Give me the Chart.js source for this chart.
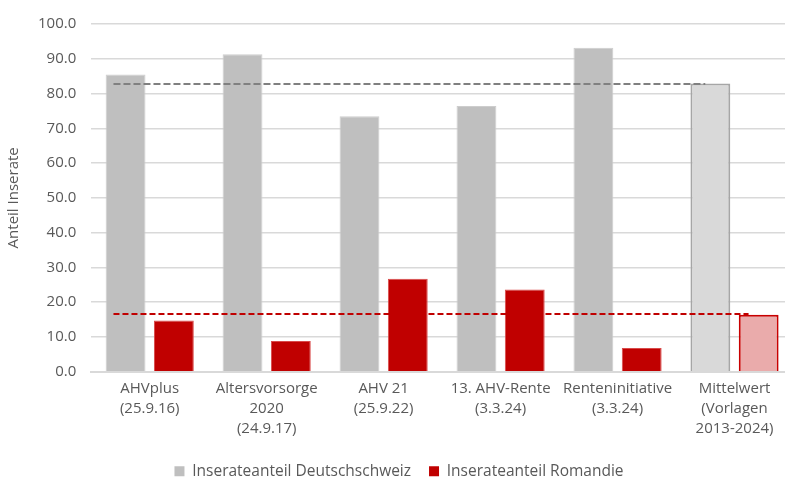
<!DOCTYPE html>
<html>
<head>
<meta charset="utf-8">
<script src="https://cdn.jsdelivr.net/npm/chart.js@4.4.1/dist/chart.umd.min.js"></script>
<style>
  html, body { margin: 0; padding: 0; background: #ffffff; overflow: hidden; }
  #wrap { width: 800px; height: 489px; position: relative; }
</style>
</head>
<body>
<div id="wrap"><canvas id="c"></canvas></div>
<script>
// Vote categories (multi-line axis labels)
const categories = [
  ['AHVplus', '(25.9.16)'],
  ['Altersvorsorge', '2020', '(24.9.17)'],
  ['AHV 21', '(25.9.22)'],
  ['13. AHV-Rente', '(3.3.24)'],
  ['Renteninitiative', '(3.3.24)'],
  ['Mittelwert', '(Vorlagen', '2013-2024)']
];

// Share of ads (%) per region
const deutschschweiz = [85.5, 91.3, 73.5, 76.4, 93.2, 82.9];
const romandie       = [14.7, 8.8, 26.7, 23.6, 6.8, 16.4];

// Average reference lines: value, and start/end on the category index axis
const avgDeutschschweiz = { value: 82.6, from: -0.31, to: 4.75 };
const avgRomandie       = { value: 16.5, from: -0.31, to: 5.12 };

const yTicks = { min: 0, max: 100, step: 10 };

const seriesNames = ['Inserateanteil Deutschschweiz', 'Inserateanteil Romandie'];

const GRAY = '#bfbfbf', RED = '#c00000';
const TEXT = '#595959', GRID = '#d9d9d9';
const FONT = '"Open Sans", Roboto, sans-serif';

// The last category (average) is drawn in a lighter, outlined style
const lastIdx = categories.length - 1;
const grayFill   = deutschschweiz.map((_, i) => i === lastIdx ? '#d9d9d9' : GRAY);
const grayBorder = deutschschweiz.map((_, i) => i === lastIdx ? '#a6a6a6' : '#cdcdcd');
const grayBW     = deutschschweiz.map((_, i) => i === lastIdx ? 2 : 1);
const redFill    = romandie.map((_, i) => i === lastIdx ? '#eaabab' : RED);
const redBorder  = romandie.map((_, i) => i === lastIdx ? '#c80000' : '#d94a4a');
const redBW      = romandie.map((_, i) => i === lastIdx ? 2 : 1);

// Dashed average lines, positioned through the chart's own x and y scales
const averageLines = {
  id: 'averageLines',
  afterDatasetsDraw(chart) {
    const { ctx, scales: { x, y } } = chart;
    const lines = [
      { ...avgDeutschschweiz, color: '#808080', dash: [7, 3] },
      { ...avgRomandie, color: RED, dash: [6, 3] }
    ];
    ctx.save();
    lines.forEach(l => {
      const py = Math.round(y.getPixelForValue(l.value));
      ctx.beginPath();
      ctx.setLineDash(l.dash);
      ctx.lineWidth = 2;
      ctx.strokeStyle = l.color;
      ctx.moveTo(x.getPixelForValue(l.from), py);
      ctx.lineTo(x.getPixelForValue(l.to), py);
      ctx.stroke();
    });
    ctx.restore();
  }
};

new Chart(document.getElementById('c'), {
  type: 'bar',
  data: {
    labels: categories,
    datasets: [
      {
        label: seriesNames[0], data: deutschschweiz,
        backgroundColor: grayFill, borderColor: grayBorder, borderWidth: grayBW,
        categoryPercentage: 0.826, barPercentage: 0.825
      },
      {
        label: seriesNames[1], data: romandie,
        backgroundColor: redFill, borderColor: redBorder, borderWidth: redBW,
        categoryPercentage: 0.826, barPercentage: 0.825
      }
    ]
  },
  plugins: [averageLines],
  options: {
    responsive: true,
    maintainAspectRatio: false,
    animation: false,
    layout: { padding: { top: 5, right: 7, left: 5, bottom: 0 } },
    scales: {
      x: {
        grid: { display: false, drawTicks: false },
        border: { display: true, color: GRID, width: 2 },
        ticks: {
          color: TEXT, font: { family: FONT, size: 15, lineHeight: 1.33 },
          padding: 7, maxRotation: 0, autoSkip: false
        }
      },
      y: {
        min: yTicks.min, max: yTicks.max,
        grid: { color: GRID, lineWidth: 1.5, drawTicks: false },
        border: { display: false },
        ticks: {
          stepSize: yTicks.step, color: TEXT, padding: 15,
          font: { family: FONT, size: 15 },
          callback: v => Number(v).toFixed(1)
        },
        title: {
          display: true, text: 'Anteil Inserate', color: TEXT,
          font: { family: FONT, size: 15 }, padding: { top: 0, bottom: 0 }
        }
      }
    },
    plugins: {
      tooltip: { enabled: false },
      legend: {
        position: 'bottom',
        labels: {
          color: TEXT, font: { family: FONT, size: 15.5 },
          boxWidth: 10, boxHeight: 10, padding: 18,
          generateLabels: chart => [0, 1].map(i => ({
            text: seriesNames[i],
            fillStyle: i === 0 ? GRAY : RED,
            strokeStyle: i === 0 ? GRAY : RED,
            lineWidth: 0,
            fontColor: TEXT,
            hidden: !chart.isDatasetVisible(i),
            datasetIndex: i
          }))
        }
      }
    }
  }
});
</script>
</body>
</html>
